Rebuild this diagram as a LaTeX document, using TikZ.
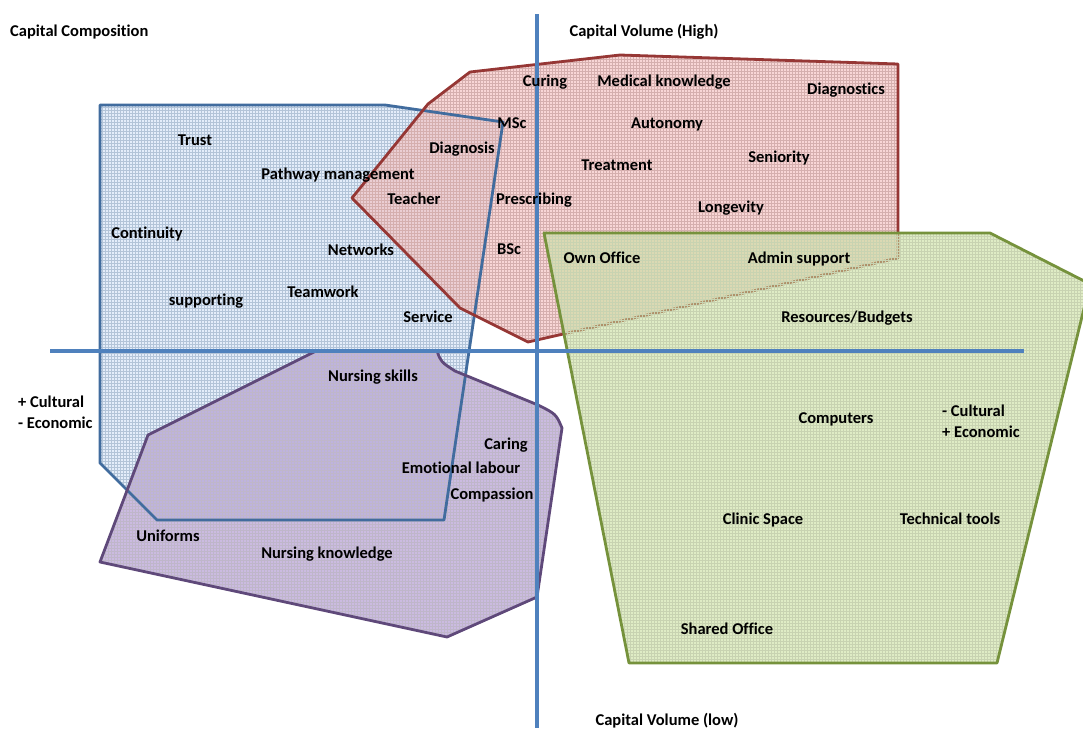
\documentclass[tikz,border=0pt]{standalone}
\usepackage{fontspec}
\setmainfont{Carlito}[Ligatures=NoCommon]
\usepackage{tikz}
\usetikzlibrary{patterns}
\definecolor{axisblue}{RGB}{79,129,189}
\definecolor{docline}{RGB}{65,108,158}
\definecolor{docfill}{RGB}{205,222,245}
\definecolor{medline}{RGB}{150,55,53}
\definecolor{medfill}{RGB}{242,180,180}
\definecolor{nurline}{RGB}{95,73,122}
\definecolor{nurfill}{RGB}{160,132,200}
\definecolor{resline}{RGB}{118,146,60}
\definecolor{resfill}{RGB}{196,220,150}

\begin{document}
\begin{tikzpicture}[x=1pt, y=-1pt,
  lbl/.style    = {font=\fontsize{16.5}{20}\selectfont\bfseries, inner sep=0pt,
                   text height=15pt, text depth=2pt},
  regionfill/.style = {fill=#1, fill opacity=0.55},
  regiongrid/.style = {pattern=grid, pattern color=#1!40, fill opacity=0.7},
  regionline/.style = {draw=#1, line width=2.8pt, line join=round},
  axis/.style   = {draw=axisblue, line width=3.2pt},
]
\useasboundingbox (0,0) rectangle (1083,728);
\clip (0,0) rectangle (1083,728);

% capital fields
\path[save path=\docarea]
  (100,105) -- (385,105) -- (503,122) -- (444,520) -- (157,520) -- (100,463) -- cycle;
\path[save path=\medarea]
  (470,72) -- (620,55) -- (898,64) -- (898,258) -- (528,342) -- (460,308)
  -- (352,198) -- (428,104) -- cycle;
\path[save path=\nurarea]
  (316,351) -- (437,351) .. controls (441,362) .. (455,371) -- (538,405)
  .. controls (556,414) .. (562,428) -- (537,597) -- (447,637) -- (100,562)
  -- (148,435) -- cycle;
\path[save path=\resarea]
  (544,233) -- (990,233) -- (1090,284) -- (997,663) -- (629,663) -- cycle;

\path[use path=\docarea, regionfill=docfill];
\path[use path=\docarea, regiongrid=docline];
\path[use path=\medarea, regionfill=medfill];
\path[use path=\medarea, regiongrid=medline];
\path[use path=\nurarea, regionfill=nurfill];
\path[use path=\nurarea, regiongrid=nurline];
\draw[use path=\docarea, regionline=docline];
\draw[use path=\medarea, regionline=medline];
\draw[use path=\nurarea, regionline=nurline];
\path[use path=\resarea, regionfill=resfill];
\path[use path=\resarea, regiongrid=resline];
\draw[use path=\resarea, regionline=resline];

% axes
\draw[axis] (537,14) -- (537,728);
\draw[axis] (50,351) -- (1024,351);

% axis titles
\node[lbl, anchor=west] (comp) at (10,30) {Capital Composition};
\node[lbl] (volhigh) at (644,30) {Capital Volume (High)};
\node[lbl] (vollow) at (667,719) {Capital Volume (low)};
\node[lbl, anchor=west, align=left] (culture) at (18,422) {+ Cultural\\[1pt]- Economic};
\node[lbl, anchor=west, align=left] (economy) at (942,431) {- Cultural\\[1pt]+ Economic};

% cultural field
\node[lbl] (trust) at (195,139) {Trust};
\node[lbl] (pathway) at (338,173) {Pathway management};
\node[lbl] (continuity) at (147,232) {Continuity};
\node[lbl] (networks) at (361,249) {Networks};
\node[lbl] (supporting) at (206,299) {supporting};
\node[lbl] (teamwork) at (323,291) {Teamwork};
\node[lbl] (service) at (428,316) {Service};
\node[lbl] (teacher) at (414,198) {Teacher};
\node[lbl] (diagnosis) at (462,147) {Diagnosis};

% medical field
\node[lbl] (msc) at (512,122) {MSc};
\node[lbl] (curing) at (545,80) {Curing};
\node[lbl] (medknow) at (664,80) {Medical knowledge};
\node[lbl] (diagnostics) at (846,88) {Diagnostics};
\node[lbl] (autonomy) at (667,122) {Autonomy};
\node[lbl] (treatment) at (617,164) {Treatment};
\node[lbl] (seniority) at (779,156) {Seniority};
\node[lbl] (prescribing) at (534,198) {Prescribing};
\node[lbl] (longevity) at (731,206) {Longevity};
\node[lbl] (bsc) at (509,248) {BSc};

% economic field
\node[lbl] (ownoffice) at (602,257) {Own Office};
\node[lbl] (admin) at (799,257) {Admin support};
\node[lbl] (budgets) at (847,316) {Resources/Budgets};
\node[lbl] (computers) at (836,417) {Computers};
\node[lbl] (clinic) at (763,518) {Clinic Space};
\node[lbl] (tools) at (950,518) {Technical tools};
\node[lbl] (shared) at (727,628) {Shared Office};

% nursing field
\node[lbl] (skills) at (373,375) {Nursing skills};
\node[lbl] (caring) at (506,443) {Caring};
\node[lbl] (emotional) at (461,467) {Emotional labour};
\node[lbl] (compassion) at (492,493) {Compassion};
\node[lbl] (uniforms) at (168,535) {Uniforms};
\node[lbl] (nurknow) at (327,552) {Nursing knowledge};
\end{tikzpicture}
\end{document}
